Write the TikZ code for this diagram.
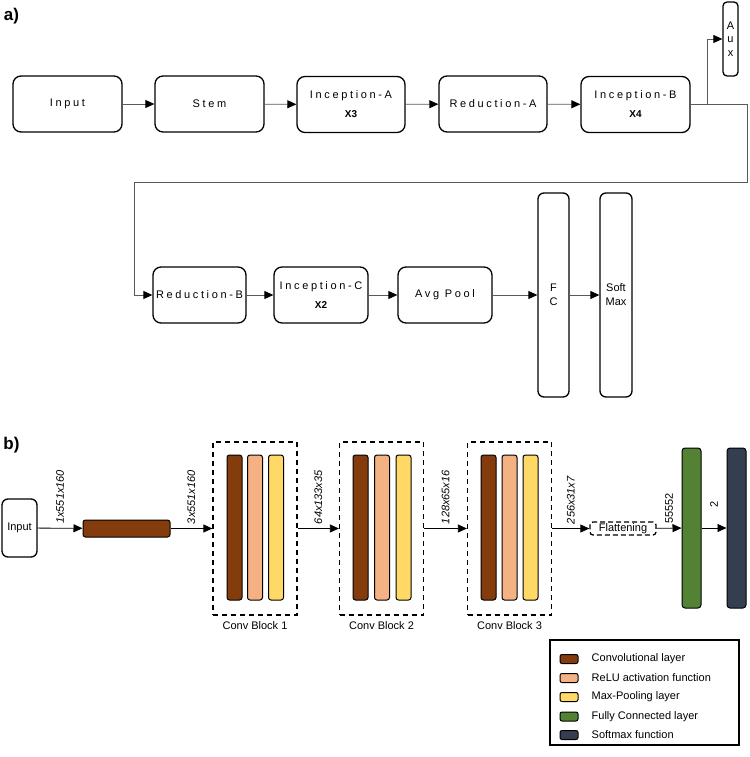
\documentclass[tikz,border=0pt]{standalone}
\usepackage{fontspec}
\setmainfont{Liberation Sans}
\newfontfamily\spacedfont[LetterSpace=24]{Liberation Sans}
\usetikzlibrary{arrows.meta,positioning}

\definecolor{convbrown}{HTML}{843C0C}
\definecolor{relupeach}{HTML}{F4B183}
\definecolor{poolyellow}{HTML}{FFD966}
\definecolor{fcgreen}{HTML}{548235}
\definecolor{softnavy}{HTML}{333F50}

\tikzset{
  blocka/.style={draw, line width=1.3pt, rounded corners=8pt, minimum height=56pt,
    inner sep=0pt, align=center, font=\fontsize{11}{19}\selectfont\spacedfont},
  talla/.style={draw, line width=1.3pt, rounded corners=6pt, minimum height=204pt,
    inner sep=0pt, align=center, font=\fontsize{11}{14}\selectfont},
  conn/.style={draw=black!65, line width=0.8pt, -{Triangle[length=9pt,width=8pt,color=black]}},
  connb/.style={draw=black, line width=0.8pt, -{Triangle[length=9pt,width=8pt]}},
  bar/.style={draw, line width=1pt, rounded corners=2.5pt, minimum width=15pt,
    minimum height=145pt, inner sep=0pt},
  dashblock/.style={draw, line width=1.3pt, dash pattern=on 5pt off 4pt,
    minimum width=84pt, minimum height=173pt, inner sep=0pt},
  sizelbl/.style={rotate=90, anchor=west, inner sep=0pt, inner xsep=4pt,
    font=\fontsize{11}{13}\selectfont\itshape},
  swatch/.style={draw, line width=1pt, rounded corners=2pt, minimum width=18pt,
    minimum height=9pt, inner sep=0pt},
  legtext/.style={inner sep=0pt, font=\fontsize{11}{13}\selectfont}
}

\begin{document}
\begin{tikzpicture}[x=1pt, y=-1pt]
    \useasboundingbox (0,0) rectangle (749,757);

    % Draw the panel tags
    \node[font=\fontsize{17}{19}\selectfont\bfseries] (taga) at (11.5,16) {a)};
    \node[font=\fontsize{17}{19}\selectfont\bfseries] (tagb) at (11.5,445) {b)};

    % Draw the first row of panel a
    \node[blocka, minimum width=109pt] (input) at (67.5,104) {Input};
    \node[blocka, minimum width=109pt] (stem) at (209.5,104) {Stem};
    \node[blocka, minimum width=108pt] (incA) at (351,104.5)
        {Inception-A\\{\rmfamily\bfseries\fontsize{10}{19}\selectfont X3}};
    \node[blocka, minimum width=108pt] (redA) at (493,104) {Reduction-A};
    \node[blocka, minimum width=109pt] (incB) at (635.5,104.5)
        {Inception-B\\{\rmfamily\bfseries\fontsize{10}{19}\selectfont X4}};
    \node[draw, line width=1.3pt, rounded corners=4pt, minimum width=15pt, minimum height=74pt,
        inner sep=0pt, align=center, font=\fontsize{11}{13.5}\selectfont] (aux) at (730.5,39) {A\\u\\x};

    % Draw the second row of panel a
    \node[blocka, minimum width=93pt] (redB) at (199.5,295) {Reduction-B};
    \node[blocka, minimum width=94pt] (incC) at (321,295)
        {Inception-C\\{\rmfamily\bfseries\fontsize{10}{19}\selectfont X2}};
    \node[blocka, minimum width=94pt] (avgpool) at (445,295) {Avg Pool};
    \node[talla, minimum width=31pt] (fc) at (553.5,295) {F\\C};
    \node[talla, minimum width=32pt] (softmax) at (616,295) {Soft\\Max};

    % Draw the connectors of panel a
    \coordinate (wrapR) at (747,182);
    \coordinate (wrapL) at (134,182);
    \draw[conn] (input) -- (stem);
    \draw[conn] (stem) -- (incA);
    \draw[conn] (incA) -- (redA);
    \draw[conn] (redA) -- (incB);
    \draw[conn] (incB.east) -- ++(17,0) |- (aux.west);
    \draw[conn] (incB.east) -| (wrapR) -- (wrapL) |- (redB.west);
    \draw[conn] (redB) -- (incC);
    \draw[conn] (incC) -- (avgpool);
    \draw[conn] (avgpool) -- (fc);
    \draw[conn] (fc) -- (softmax);

    % Draw the layers of panel b
    \node[draw, line width=1.3pt, rounded corners=6pt, minimum width=35pt, minimum height=58pt,
        inner sep=0pt, font=\fontsize{11}{13}\selectfont] (inputb) at (19.5,528) {Input};
    \node[draw, fill=convbrown, line width=1pt, rounded corners=2.5pt, minimum width=87pt,
        minimum height=17pt, inner sep=0pt] (conv0) at (126.5,528.5) {};

    \node[dashblock] (block1) at (255,528.5) {};
    \node[bar, fill=convbrown] (conv1) at (234.5,527.5) {};
    \node[bar, fill=relupeach] (relu1) at (255,527.5) {};
    \node[bar, fill=poolyellow] (pool1) at (276,527.5) {};
    \node[legtext, below=6pt of block1] (name1) {Conv Block 1};

    \node[dashblock] (block2) at (381.5,528.5) {};
    \node[bar, fill=convbrown] (conv2) at (360.5,527.5) {};
    \node[bar, fill=relupeach] (relu2) at (382,527.5) {};
    \node[bar, fill=poolyellow] (pool2) at (403.5,527.5) {};
    \node[legtext, below=6pt of block2] (name2) {Conv Block 2};

    \node[dashblock] (block3) at (509.5,528.5) {};
    \node[bar, fill=convbrown] (conv3) at (488.5,527.5) {};
    \node[bar, fill=relupeach] (relu3) at (509.5,527.5) {};
    \node[bar, fill=poolyellow] (pool3) at (530.5,527.5) {};
    \node[legtext, below=6pt of block3] (name3) {Conv Block 3};

    \node[draw, line width=1.3pt, dash pattern=on 5pt off 3pt, rounded corners=3pt, minimum width=66pt,
        minimum height=13pt, inner sep=0pt, font=\fontsize{11}{13}\selectfont] (flat) at (623,528.5) {Flattening};
    \node[draw, fill=fcgreen, line width=1pt, rounded corners=3pt, minimum width=19pt,
        minimum height=160pt, inner sep=0pt] (fcb) at (691.5,528) {};
    \node[draw, fill=softnavy, line width=1pt, rounded corners=3pt, minimum width=19pt,
        minimum height=160pt, inner sep=0pt] (softb) at (736.5,528) {};

    % Draw the connectors of panel b with their sizes
    \draw[connb] (inputb) -- node[sizelbl] {1x551x160} (conv0);
    \draw[connb] (conv0) -- node[sizelbl] {3x551x160} (block1);
    \draw[connb] (block1) -- node[sizelbl] {64x133x35} (block2);
    \draw[connb] (block2) -- node[sizelbl] {128x65x16} (block3);
    \draw[connb] (block3) -- node[sizelbl] {256x31x7} (flat);
    \draw[connb] (flat) -- node[sizelbl, font=\fontsize{11}{13}\selectfont] {55552} (fcb);
    \draw[connb] (fcb) -- node[sizelbl, inner xsep=20pt, font=\fontsize{11}{13}\selectfont] {2} (softb);

    % Draw the legend
    \node[draw, line width=1.2pt, minimum width=189pt, minimum height=105pt] (legend) at (644.5,692.5) {};
    \node[swatch, fill=convbrown] (sw1) at (569,659) {};
    \node[swatch, fill=relupeach] (sw2) at (569,678) {};
    \node[swatch, fill=poolyellow] (sw3) at (569,697) {};
    \node[swatch, fill=fcgreen] (sw4) at (569,716.5) {};
    \node[swatch, fill=softnavy] (sw5) at (569,735) {};
    \node[legtext, right=13pt of sw1] (lg1) {Convolutional layer};
    \node[legtext, right=13pt of sw2] (lg2) {ReLU activation function};
    \node[legtext, right=13pt of sw3] (lg3) {Max-Pooling layer};
    \node[legtext, right=13pt of sw4] (lg4) {Fully Connected layer};
    \node[legtext, right=13pt of sw5] (lg5) {Softmax function};
\end{tikzpicture}
\end{document}
